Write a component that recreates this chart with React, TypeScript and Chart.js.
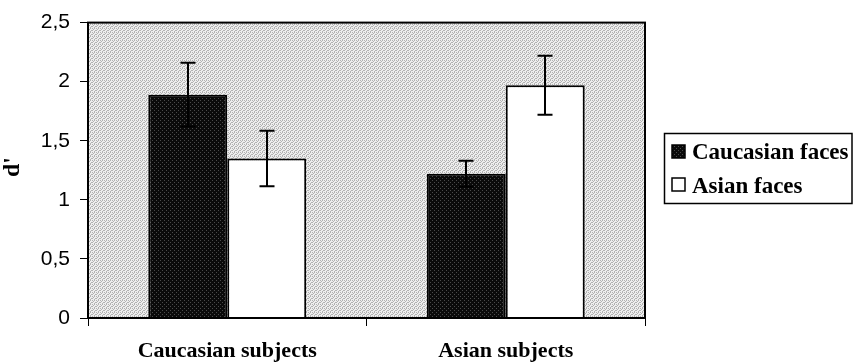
import React, { useEffect, useRef } from "react";
import { Chart, registerables } from "chart.js";

Chart.register(...registerables);

const categories = ["Caucasian subjects", "Asian subjects"];
const seriesNames = ["Caucasian faces", "Asian faces"];
const caucasianFaces = [1.89, 1.22];
const asianFaces = [1.35, 1.97];
const caucasianErr = [0.27, 0.11];
const asianErr = [0.235, 0.25];
const yTickValues = [0, 0.5, 1, 1.5, 2, 2.5];
const yTickLabels = ["0", "0,5", "1", "1,5", "2", "2,5"];
const yTitle = "d'";

function makePattern(base: string, dot: string, dots: [number, number][], size: number) {
  const c = document.createElement("canvas");
  c.width = size;
  c.height = size;
  const g = c.getContext("2d")!;
  g.fillStyle = base;
  g.fillRect(0, 0, size, size);
  g.fillStyle = dot;
  dots.forEach(([x, y]) => g.fillRect(x, y, 1, 1));
  return g.createPattern(c, "repeat")!;
}

export default function App() {
  const ref = useRef<HTMLCanvasElement | null>(null);
  useEffect(() => {
    const canvas = ref.current!;
    const bgPattern = makePattern(
      "#eeeeee",
      "#b2b2b2",
      [[0, 0], [2, 0], [1, 1], [3, 2], [0, 2], [2, 3]],
      4
    );
    const darkPattern = makePattern("#0a0a0a", "#4a4a4a", [[0, 0], [2, 2]], 4);
    const errs = [caucasianErr, asianErr];

    const plugin = {
      id: "custom",
      beforeDraw(chart: any) {
        const { ctx, chartArea: a } = chart;
        ctx.save();
        ctx.fillStyle = bgPattern;
        ctx.fillRect(a.left, a.top, a.right - a.left, a.bottom - a.top);
        ctx.restore();
      },
      afterDatasetsDraw(chart: any) {
        const { ctx } = chart;
        const ys = chart.scales.y;
        ctx.save();
        ctx.strokeStyle = "#000";
        ctx.lineWidth = 2;
        chart.data.datasets.forEach((ds: any, i: number) => {
          const meta = chart.getDatasetMeta(i);
          meta.data.forEach((bar: any, j: number) => {
            const v = ds.data[j];
            const e = errs[i][j];
            const x = Math.round(bar.x);
            const y1 = ys.getPixelForValue(v + e);
            const y2 = ys.getPixelForValue(v - e);
            ctx.beginPath();
            ctx.moveTo(x, y1);
            ctx.lineTo(x, y2);
            ctx.moveTo(x - 7.5, y1);
            ctx.lineTo(x + 7.5, y1);
            ctx.moveTo(x - 7.5, y2);
            ctx.lineTo(x + 7.5, y2);
            ctx.stroke();
          });
        });
        ctx.restore();
      },
      afterDraw(chart: any) {
        const { ctx, chartArea: a } = chart;
        ctx.save();
        ctx.strokeStyle = "#000";
        ctx.lineWidth = 2;
        ctx.strokeRect(a.left, a.top, a.right - a.left, a.bottom - a.top);

        // y title
        ctx.fillStyle = "#000";
        ctx.font = "bold 24px 'Liberation Serif'";
        ctx.textAlign = "center";
        ctx.textBaseline = "middle";
        ctx.translate(13, 167);
        ctx.rotate(-Math.PI / 2);
        ctx.fillText(yTitle, 0, 0);
        ctx.restore();

        // legend
        ctx.save();
        ctx.strokeStyle = "#000";
        ctx.lineWidth = 1.5;
        ctx.strokeRect(664.5, 133.5, 187.5, 70);
        const fills = [darkPattern, "#ffffff"];
        const sy = [145, 178];
        const ty = [159, 193];
        ctx.font = "bold 23px 'Liberation Serif'";
        ctx.textAlign = "left";
        ctx.textBaseline = "alphabetic";
        seriesNames.forEach((name, i) => {
          ctx.fillStyle = fills[i] as any;
          ctx.fillRect(672, sy[i], 13, 13);
          ctx.strokeRect(672, sy[i], 13, 13);
          ctx.fillStyle = "#000";
          ctx.fillText(name, 692, ty[i]);
        });
        ctx.restore();
      },
    };

    const chart = new Chart(canvas, {
      type: "bar",
      data: {
        labels: categories,
        datasets: [
          {
            label: seriesNames[0],
            data: caucasianFaces,
            backgroundColor: darkPattern as any,
            borderColor: "#000",
            borderWidth: 2,
            categoryPercentage: 0.567,
            barPercentage: 1,
          },
          {
            label: seriesNames[1],
            data: asianFaces,
            backgroundColor: "#ffffff",
            borderColor: "#000",
            borderWidth: 2,
            categoryPercentage: 0.567,
            barPercentage: 1,
          },
        ],
      },
      options: {
        responsive: false,
        animation: false,
        layout: { padding: { left: 0, top: 19, right: 208, bottom: 0 } },
        plugins: {
          legend: { display: false },
          tooltip: { enabled: false },
        },
        scales: {
          x: {
            afterFit: (s: any) => {
              s.height = 44;
            },
            grid: {
              drawOnChartArea: false,
              drawTicks: true,
              tickLength: 8,
              color: "#000",
              lineWidth: 1,
              offset: true,
            },
            border: { display: true, color: "#000", width: 2 },
            ticks: {
              color: "#000",
              font: { family: "'Liberation Serif'", size: 22, weight: "bold" },
              padding: 12,
              maxRotation: 0,
              autoSkip: false,
            },
          },
          y: {
            min: 0,
            max: 2.5,
            afterFit: (s: any) => {
              s.width = 88;
            },
            afterBuildTicks: (s: any) => {
              s.ticks = yTickValues.map((v) => ({ value: v }));
            },
            grid: {
              drawOnChartArea: false,
              drawTicks: true,
              tickLength: 8,
              color: "#000",
              lineWidth: 1,
            },
            border: { display: true, color: "#000", width: 2 },
            ticks: {
              color: "#000",
              font: { family: "'Liberation Sans'", size: 21 },
              padding: 10,
              callback: (v: any) => {
                const idx = yTickValues.indexOf(Number(v));
                return idx >= 0 ? yTickLabels[idx] : "";
              },
            },
          },
        },
      },
      plugins: [plugin],
    });
    return () => chart.destroy();
  }, []);

  return (
    <div style={{ position: "fixed", left: 0, top: 0, width: 853, height: 362, background: "#fff" }}>
      <canvas ref={ref} width={853} height={362} style={{ display: "block" }} />
    </div>
  );
}
